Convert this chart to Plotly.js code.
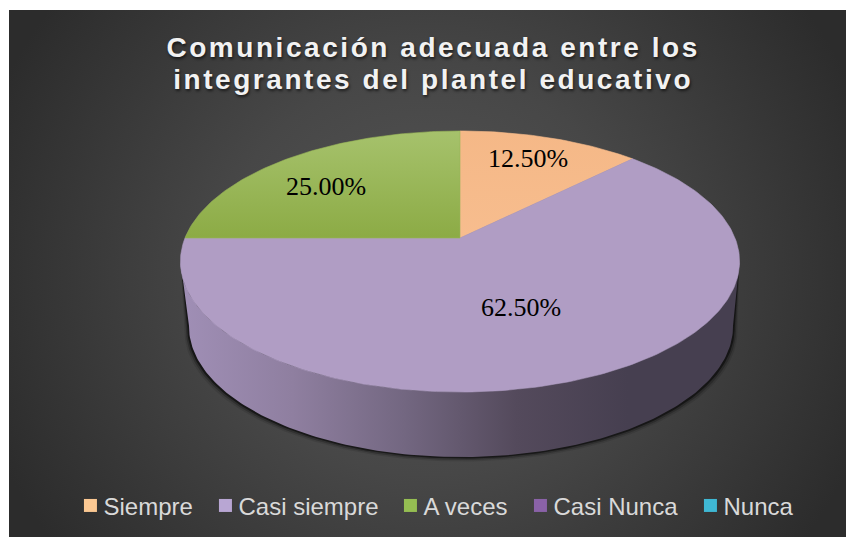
<!DOCTYPE html>
<html>
<head>
<meta charset="utf-8">
<script src="https://cdn.plot.ly/plotly-3.0.1.min.js"></script>
<style>
html,body{margin:0;padding:0;background:#fff;width:846px;height:537px;overflow:hidden}
#bg{position:absolute;left:9px;top:10px;width:837px;height:527px;
 background:radial-gradient(ellipse 56% 85% at 50% 50%,#565656 0%,#474747 45%,#2c2c2c 100%)}
#chart{position:absolute;left:0;top:0;width:846px;height:537px}
.gtitle{letter-spacing:2.55px}
.legend .legendsymbols{transform:translateX(7px)}
</style>
</head>
<body>
<div id="bg"></div>
<div id="chart"></div>
<script>
const titleText = 'Comunicación adecuada entre los<br>integrantes del plantel educativo';
const categories = ['Siempre','Casi siempre','A veces','Casi Nunca','Nunca'];
const values = [12.5,62.5,25,0,0];
const legendColors = ['#fbc892','#b8a6d3','#95be52','#8a62a8','#3fb8d4'];
const sliceEdges = ['#f6ba8a','#b09dc4','#99b758','#8064a2','#4bacc6'];
const sliceGradients = [
  [[0,'#f7bd8e'],[1,'#f5b887']],
  [[0,'#b09dc4'],[1,'#b09dc4']],
  [[0,'#8cab45'],[1,'#a6c26c']],
  [[0,'#8064a2'],[1,'#8064a2']],
  [[0,'#4bacc6'],[1,'#4bacc6']]
];
const wallGradient = [[0,'#a08fb6'],[0.2,'#8f7fa0'],[0.4,'#736781'],[0.6,'#544a5c'],[0.8,'#463f50'],[1,'#463f50']];
const labelSpots = [[528,158],[521,307],[326,186]];
const legendOffsets = [0,135,320,450,620];

// perspective disc: unit circle on the table -> chart pixels
const CX=460, CY=238, A=275, B=126.3, K=0.18, DROP=65, SHRINK=0.973, LOWCX=461;
function project(X,Y){const d=1+K*Y;return [CX+A*X/d, CY-B*Y/d];}
function rim(deg){const t=deg*Math.PI/180;return project(Math.sin(t),Math.cos(t));}
function arc(from,to){const n=Math.max(2,Math.ceil(Math.abs(to-from)));const p=[];
  for(let i=0;i<=n;i++)p.push(rim(from+(to-from)*i/n));return p;}

function wallPath(grow,dy){
  const top=arc(100,260), low=arc(260,100);
  const pts=top.concat(low.map(p=>[LOWCX+(p[0]-CX)*(SHRINK+grow),p[1]+DROP+dy]));
  pts.push(pts[0]);return pts;
}
const xs=p=>p.map(q=>q[0]), ys=p=>p.map(q=>q[1]);
const traces=[];
[[0.016,4.5,'rgba(0,0,0,0.10)'],[0.011,3,'rgba(0,0,0,0.22)'],[0.006,1.5,'rgba(0,0,0,0.5)']].forEach(s=>{
  const p=wallPath(s[0],s[1]);
  traces.push({type:'scatter',mode:'lines',x:xs(p),y:ys(p),fill:'toself',fillcolor:s[2],line:{width:0},showlegend:false,hoverinfo:'skip'});
});
const w=wallPath(0,0);
traces.push({type:'scatter',mode:'lines',x:xs(w),y:ys(w),fill:'toself',line:{width:0},showlegend:false,hoverinfo:'skip',
  fillgradient:{type:'horizontal',colorscale:wallGradient}});

const total=values.reduce((a,b)=>a+b,0);
let cum=0;
categories.forEach((c,i)=>{
  const a0=cum/total*360; cum+=values[i]; const a1=cum/total*360;
  if(values[i]>0){
    const p=[[CX,CY]].concat(arc(a0,a1)); p.push([CX,CY]);
    traces.push({type:'scatter',mode:'lines',name:c,x:xs(p),y:ys(p),fill:'toself',line:{width:0.6,color:sliceEdges[i]},showlegend:false,hoverinfo:'skip',
      fillgradient:{type:'vertical',colorscale:sliceGradients[i]}});
  }
});
categories.forEach((c,i)=>{
  traces.push({type:'scatter',mode:'markers',name:c,x:[null],y:[null],marker:{symbol:'square',size:13,color:legendColors[i]},hoverinfo:'skip'});
});

const annotations=values.filter(v=>v>0).map((v,i)=>({
  x:labelSpots[i][0],y:labelSpots[i][1],xref:'x',yref:'y',showarrow:false,
  text:v.toFixed(2)+'%',font:{family:'Liberation Serif',size:26,color:'#000'}
}));

const layout={
  width:846,height:537,margin:{l:0,r:0,t:0,b:0},
  paper_bgcolor:'rgba(0,0,0,0)',plot_bgcolor:'rgba(0,0,0,0)',
  title:{text:titleText,x:0.512,xanchor:'center',y:0.8945,yanchor:'bottom',
    font:{family:'Liberation Sans',size:28,weight:700,color:'#f2f2f2',shadow:'1px 2px 3px rgba(0,0,0,0.6)'}},
  xaxis:{range:[0,846],visible:false,fixedrange:true},
  yaxis:{range:[537,0],visible:false,fixedrange:true},
  showlegend:true,
  legend:{orientation:'h',x:0.075,xanchor:'left',y:0.058,yanchor:'middle',bgcolor:'rgba(0,0,0,0)',
    font:{family:'Liberation Sans',size:24,color:'#d9d9d9'}},
  annotations:annotations
};
Plotly.newPlot('chart',traces,layout,{displayModeBar:false,staticPlot:true}).then(gd=>{
  const lines=gd.querySelectorAll('.gtitle tspan.line');
  if(lines.length>1)lines[1].setAttribute('dy','32px');
  const box=gd.querySelector('.legend .scrollbox');
  if(box)box.removeAttribute('clip-path');
  const clip=gd.querySelector('.legend');
  if(clip)clip.style.clipPath='none';
  gd.querySelectorAll('.legend .traces').forEach((t,i)=>{
    const m=/translate\(\s*[-\d.]+\s*,\s*([-\d.]+)/.exec(t.getAttribute('transform')||'');
    t.setAttribute('transform','translate('+legendOffsets[i]+','+(m?m[1]:0)+')');
  });
});
</script>
</body>
</html>
